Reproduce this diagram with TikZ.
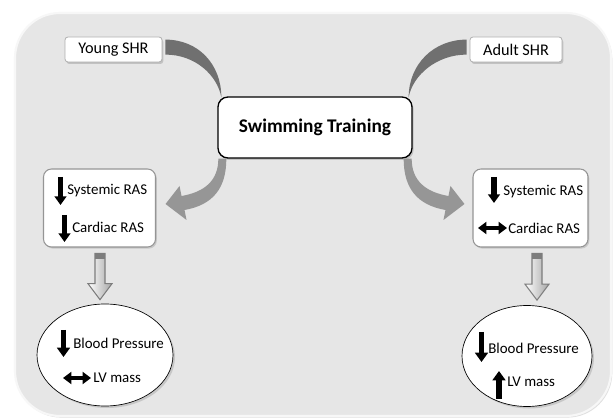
\documentclass[tikz,border=0pt]{standalone}
\usepackage{fontspec}
\setmainfont{Carlito}
\usetikzlibrary{arrows.meta,calc,shadows,shapes.geometric}
\definecolor{framebg}{RGB}{230,230,230}
\definecolor{framerim}{RGB}{247,247,247}
\definecolor{boxline}{RGB}{175,175,175}
\definecolor{conndark}{RGB}{112,112,112}
\definecolor{connlight}{RGB}{150,150,150}
\definecolor{blockline}{RGB}{125,125,125}
\begin{document}
\begin{tikzpicture}[x=0.75pt,y=-0.75pt,
  frame/.style={draw=framerim, fill=framebg, line width=1.6pt, rounded corners=33.75pt,
    minimum width=447pt, minimum height=302.25pt, inner sep=0,
    drop shadow={shadow xshift=1pt, shadow yshift=-1.2pt, opacity=0.25}},
  smallbox/.style={draw=boxline, fill=white, rounded corners=2.25pt, line width=0.6pt,
    inner sep=0, font=\fontsize{12.2}{14}\selectfont,
    drop shadow={shadow xshift=1pt, shadow yshift=-1.5pt, opacity=0.35}},
  swimbox/.style={draw=black, fill=white, rounded corners=7.5pt, line width=1pt,
    minimum width=145.5pt, minimum height=45.75pt, inner sep=0,
    font=\bfseries\fontsize{14.5}{17}\selectfont,
    drop shadow={shadow xshift=1.2pt, shadow yshift=-1.5pt, opacity=0.35}},
  rasbox/.style={draw=boxline!85!black, fill=white, rounded corners=6pt, line width=0.8pt,
    minimum height=58.5pt, inner sep=0,
    drop shadow={shadow xshift=1pt, shadow yshift=-1.2pt, opacity=0.3}},
  ellnode/.style={ellipse, draw=black, fill=white, line width=0.5pt, inner sep=0,
    drop shadow={shadow xshift=1.5pt, shadow yshift=-1.5pt, opacity=0.3}},
  lbl/.style={inner sep=0, anchor=west, font=\fontsize{11.2}{13}\selectfont},
  connA/.style={fill=conndark},
  connB/.style={fill=connlight},
  blockarr/.style={draw=blockline, line width=0.8pt, left color=white, right color=black!35},
  blk/.style={line width=3.8pt, -{Triangle[width=8.8pt,length=6.5pt]}},
  blkbig/.style={line width=4.2pt, -{Triangle[width=9.6pt,length=7pt]}},
  blkdbl/.style={line width=3.4pt, {Triangle[width=9pt,length=6.3pt]}-{Triangle[width=9pt,length=6.3pt]}}
]
\useasboundingbox (0,0) rectangle (614,420);
\fill[white] (0,0) rectangle (614,420);

% outer frame
\node[frame] (frame) at (313,214.5) {};

% main nodes
\node[smallbox, minimum width=72.75pt, minimum height=18.75pt] (young) at (113.5,49.5) {Young SHR};
\node[smallbox, minimum width=69pt, minimum height=18.75pt] (adult) at (516,49.5) {Adult SHR};
\node[swimbox] (swim) at (315,127.5) {Swimming Training};
\node[rasbox, minimum width=84pt] (ras1) at (99.5,208) {};
\node[rasbox, minimum width=86.25pt] (ras2) at (530.5,208) {};
\node[ellnode, minimum width=102pt, minimum height=76.5pt] (ell1) at (105,355) {};
\node[ellnode, minimum width=97.5pt, minimum height=75.75pt] (ell2) at (527,356) {};

% curved connectors: young -> swim, adult -> swim
\fill[connA] ($(young.north east)+(3,3)$)
  .. controls ($(young.north east)+(36,3)$) and ($(swim.north west)+(4,-32)$) .. ($(swim.north west)+(4,1)$)
  .. controls ($(swim.north west)+(0,-21)$) and ($(young.north east)+(33,18)$) .. ($(young.north east)+(3,18)$) -- cycle;
\fill[connA] ($(adult.north west)+(-3,3)$)
  .. controls ($(adult.north west)+(-36,3)$) and ($(swim.north east)+(-4,-32)$) .. ($(swim.north east)+(-4,1)$)
  .. controls ($(swim.north east)+(0,-21)$) and ($(adult.north west)+(-33,18)$) .. ($(adult.north west)+(-3,18)$) -- cycle;

% curved arrows: swim -> ras1, swim -> ras2
\fill[connB] ($(swim.south west)+(9,0)$)
  .. controls ($(swim.south west)+(9,30)$) and ($(ras1.east)+(56.5,-3)$) .. ($(ras1.east)+(28.5,2)$)
  -- ($(ras1.east)+(30.5,12)$) -- ($(ras1.east)+(9.5,-4)$) -- ($(ras1.east)+(23.5,-22)$)
  -- ($(ras1.east)+(25.5,-12)$)
  .. controls ($(ras1.east)+(48.5,-16)$) and ($(swim.south west)+(1,22)$) .. ($(swim.south west)+(1,0)$) -- cycle;
\fill[connB] ($(swim.south east)+(-9,0)$)
  .. controls ($(swim.south east)+(-9,30)$) and ($(ras2.west)+(-55,-3)$) .. ($(ras2.west)+(-27,2)$)
  -- ($(ras2.west)+(-29,12)$) -- ($(ras2.west)+(-8,-4)$) -- ($(ras2.west)+(-22,-22)$)
  -- ($(ras2.west)+(-24,-12)$)
  .. controls ($(ras2.west)+(-47,-16)$) and ($(swim.south east)+(-1,22)$) .. ($(swim.south east)+(-1,0)$) -- cycle;

% block arrows: ras -> ellipse
\coordinate (a1top) at ($(ras1.south)+(0.5,6)$);
\coordinate (a1tip) at ($(ras1.south |- ell1.north)+(0.5,-4)$);
\path[blockarr] ($(a1top)+(-5,0)$) -- ($(a1top)+(5,0)$) -- ($(a1tip)+(5,-16)$) -- ($(a1tip)+(12,-16)$)
  -- (a1tip) -- ($(a1tip)+(-12,-16)$) -- ($(a1tip)+(-5,-16)$) -- cycle;
\fill[blockline] ($(a1top)+(-5,0)$) rectangle ($(a1top)+(5,5)$);
\coordinate (a2top) at ($(ras2.south)+(6.5,6)$);
\coordinate (a2tip) at ($(ras2.south |- ell2.north)+(6.5,-5)$);
\path[blockarr] ($(a2top)+(-5,0)$) -- ($(a2top)+(5,0)$) -- ($(a2tip)+(5,-16)$) -- ($(a2tip)+(12,-16)$)
  -- (a2tip) -- ($(a2tip)+(-12,-16)$) -- ($(a2tip)+(-5,-16)$) -- cycle;
\fill[blockline] ($(a2top)+(-5,0)$) rectangle ($(a2top)+(5,5)$);

% texts
\node[lbl] (t1) at (67,191) {Systemic RAS};
\node[lbl] (t2) at (72,227) {Cardiac RAS};
\node[lbl] (t3) at (503,192) {Systemic RAS};
\node[lbl] (t4) at (508,228) {Cardiac RAS};
\node[lbl] (t5) at (73,343) {Blood Pressure};
\node[lbl] (t6) at (93,378) {LV mass};
\node[lbl] (t7) at (488,348) {Blood Pressure};
\node[lbl] (t8) at (507,382) {LV mass};

% black indicator arrows
\draw[blk] (60.5,177) -- (60.5,205);
\draw[blk] (64.5,215) -- (64.5,242);
\draw[blk] (494,177) -- (494,203);
\draw[blkdbl] (478,228) -- (507,228);
\draw[blkbig] (63.5,330) -- (63.5,357);
\draw[blkdbl] (63,378) -- (91,378);
\draw[blkbig] (481.5,332) -- (481.5,362);
\draw[blkbig] (499,399) -- (499,371);
\end{tikzpicture}
\end{document}
